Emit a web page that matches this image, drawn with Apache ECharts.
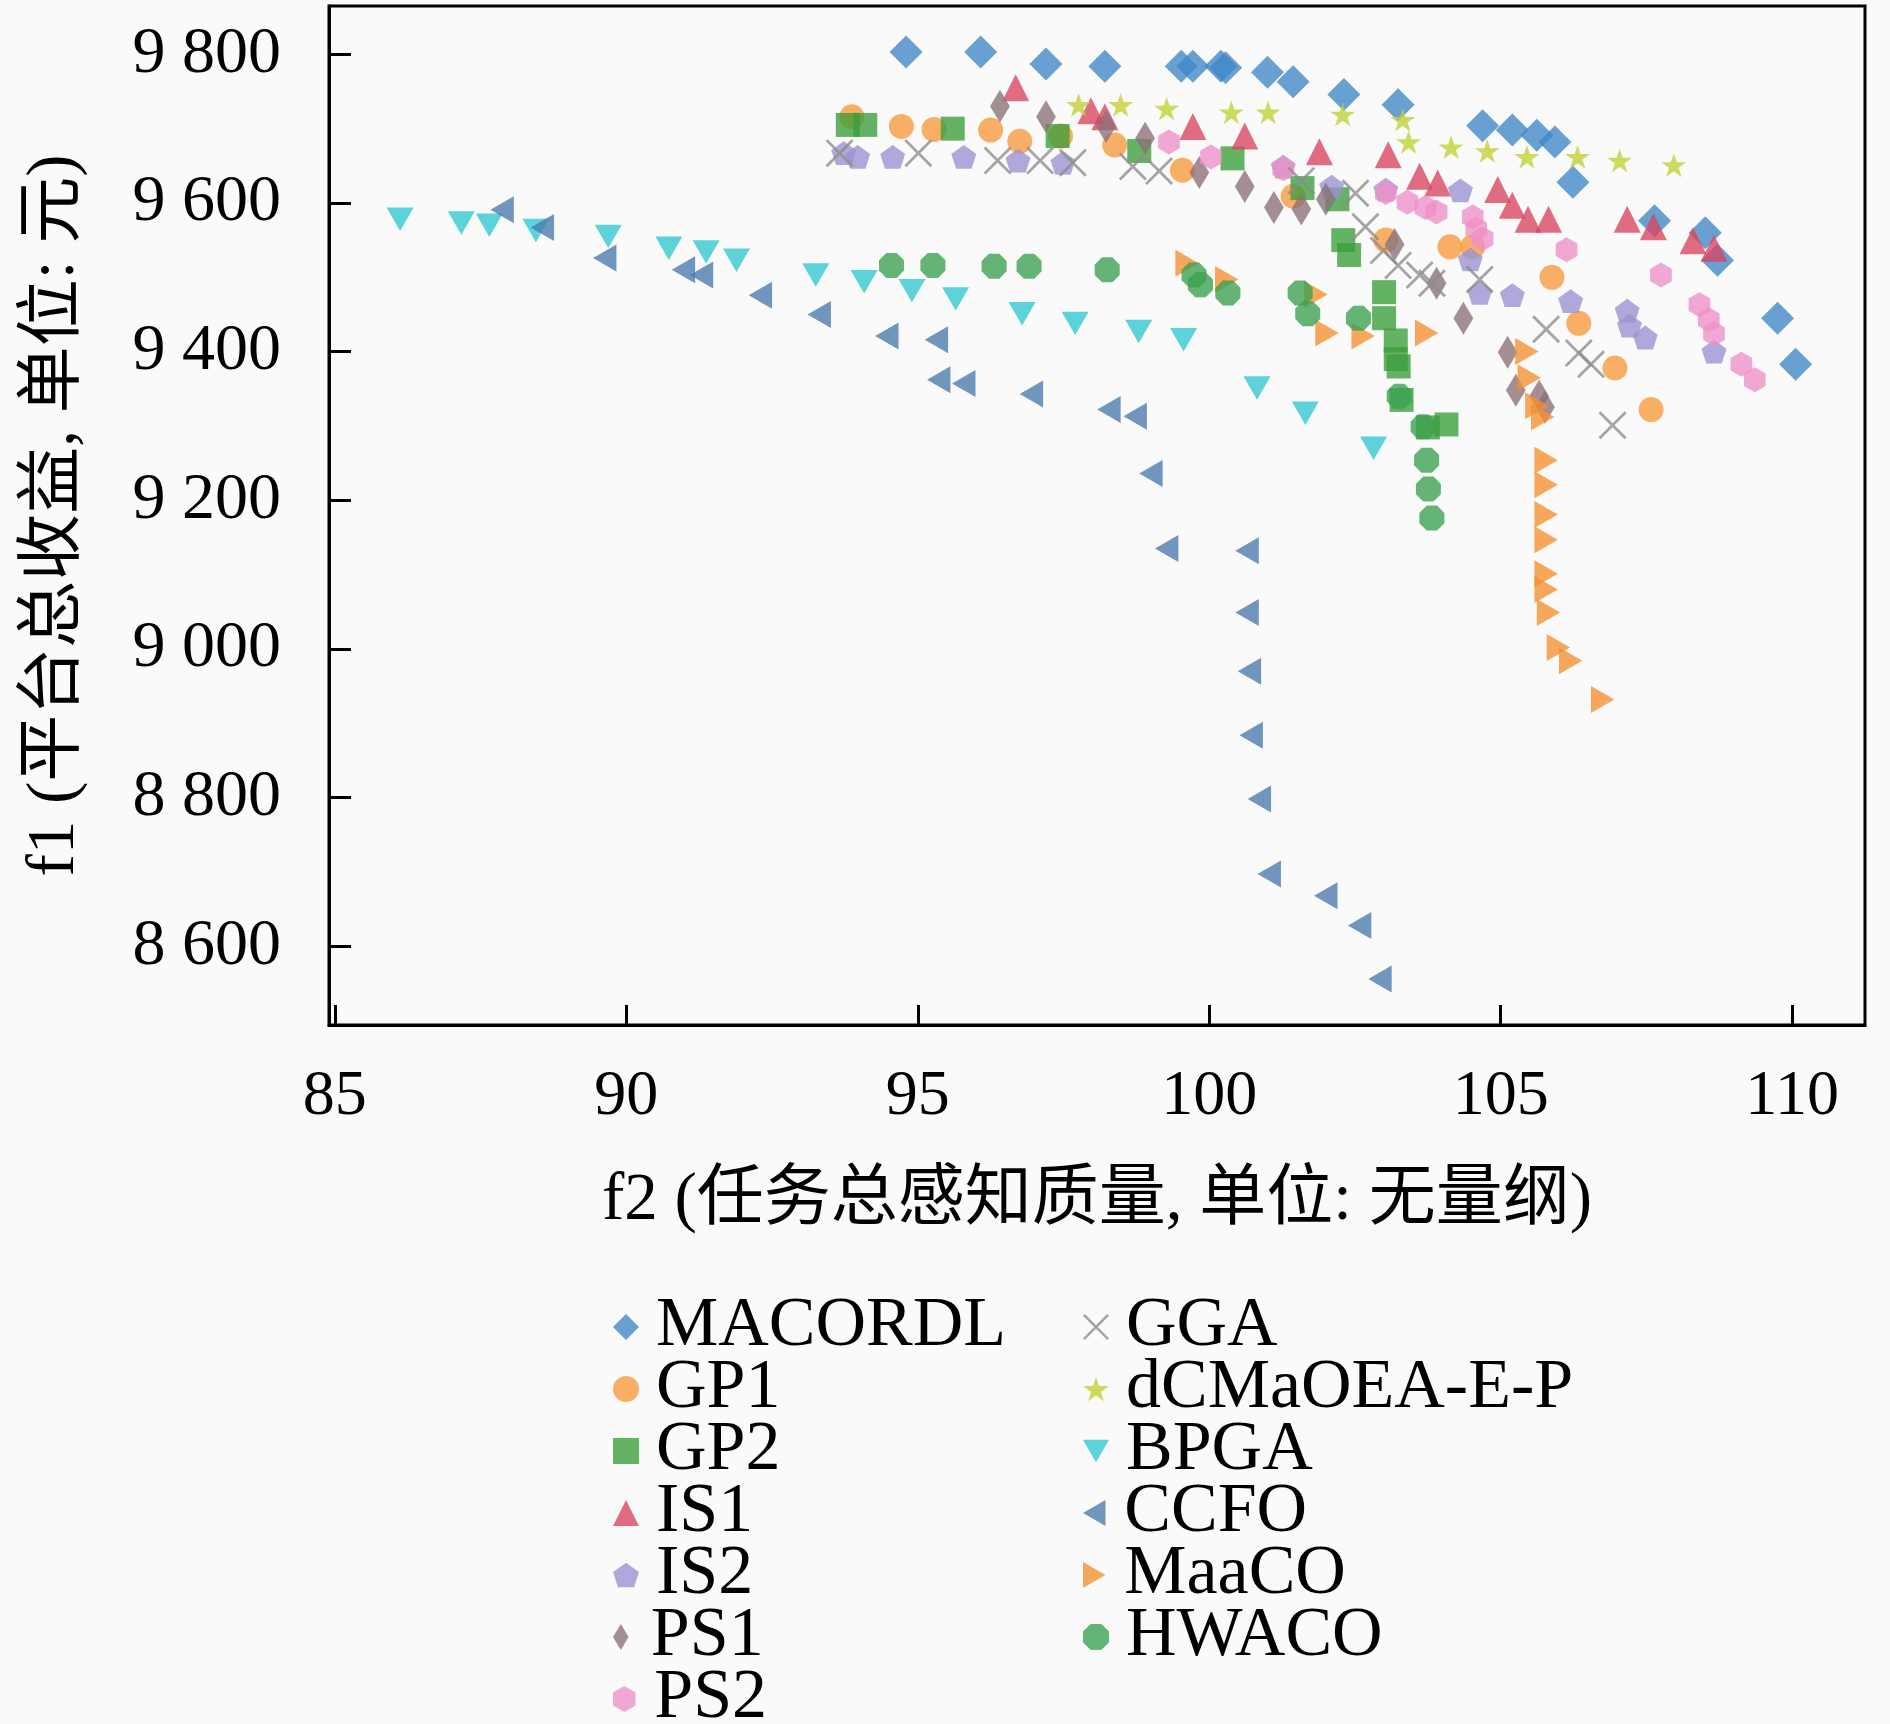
<!DOCTYPE html>
<html>
<head>
<meta charset="utf-8">
<script src="https://cdn.jsdelivr.net/npm/echarts@6/dist/echarts.min.js"></script>
<style>
  html, body { margin: 0; padding: 0; background: #fafafa; }
  #chart { width: 1890px; height: 1724px; }
</style>
</head>
<body>
<div id="chart"></div>
<script>
// [f2, f1] pairs
const macordl = [[94.80,9803],[96.08,9803],[97.20,9787],[98.21,9784],[99.52,9784],[99.72,9784],[100.20,9784],[100.28,9782],[101.00,9776],[101.44,9763],[102.31,9746],[103.24,9732],[104.69,9704],[105.20,9698],[105.62,9691],[105.93,9682],[106.24,9628],[107.64,9576],[108.51,9560],[108.72,9523],[109.75,9445],[110.06,9383]];
const gp1 = [[93.87,9716],[94.72,9703],[95.28,9699],[96.25,9698],[96.75,9683],[97.45,9690],[98.38,9678],[99.54,9644],[101.44,9609],[103.03,9550],[104.13,9541],[104.52,9541],[105.88,9500],[106.34,9438],[106.96,9378],[107.58,9322]];
const gp2 = [[93.8,9705],[94.1,9705],[95.6,9700],[97.4,9690],[98.8,9670],[100.4,9660],[101.6,9620],[102.2,9605],[102.3,9550],[102.4,9530],[103.0,9480],[103.0,9445],[103.2,9415],[103.2,9390],[103.25,9380],[103.3,9335],[103.75,9298],[104.07,9302]];
const is1 = [[96.68,9755],[97.97,9724],[98.21,9716],[99.72,9703],[100.61,9690],[101.89,9669],[103.07,9665],[103.61,9636],[103.92,9627],[104.95,9618],[105.20,9597],[105.47,9578],[105.82,9578],[107.17,9578],[107.62,9568],[108.30,9549],[108.66,9539]];
const is2 = [[93.73,9667],[93.97,9662],[94.57,9662],[95.79,9662],[96.72,9657],[97.49,9654],[101.27,9649],[102.10,9622],[103.03,9618],[104.31,9617],[104.48,9524],[104.64,9479],[105.20,9476],[106.20,9468],[107.17,9455],[107.21,9435],[107.48,9419],[108.66,9400]];
const ps1 = [[96.41,9730],[97.20,9716],[98.23,9703],[98.90,9687],[99.83,9641],[100.61,9622],[101.11,9594],[101.58,9592],[102.00,9605],[103.18,9544],[103.90,9492],[104.36,9445],[105.12,9399],[105.26,9348],[105.66,9340],[105.76,9325]];
const ps2 = [[99.31,9682],[100.03,9662],[101.27,9646],[103.03,9614],[103.40,9601],[103.71,9594],[103.90,9588],[104.52,9581],[104.58,9565],[104.69,9552],[106.13,9537],[107.75,9503],[108.41,9463],[108.57,9443],[108.66,9424],[109.13,9383],[109.36,9362]];
const gga = [[93.66,9667],[95.01,9667],[96.37,9657],[97.10,9657],[97.66,9654],[98.69,9649],[99.14,9643],[101.58,9630],[102.51,9613],[102.68,9568],[102.99,9536],[103.24,9516],[103.61,9503],[103.82,9492],[104.64,9497],[105.78,9430],[106.34,9398],[106.55,9383],[106.92,9301]];
const dcmaoea = [[97.76,9732],[98.48,9732],[99.27,9727],[100.38,9722],[101.01,9722],[102.29,9719],[103.32,9712],[103.42,9682],[104.15,9675],[104.77,9670],[105.45,9662],[106.32,9662],[107.04,9657],[107.97,9651]];
const bpga = [[86.12,9578],[87.17,9573],[87.65,9570],[88.45,9563],[89.69,9555],[90.73,9539],[91.37,9534],[91.89,9523],[93.25,9503],[94.08,9494],[94.90,9482],[95.65,9471],[96.79,9451],[97.70,9438],[98.79,9427],[99.56,9416],[100.82,9351],[101.65,9317],[102.82,9270]];
const ccfo = [[87.87,9591],[88.56,9567],[89.63,9526],[90.98,9510],[91.29,9503],[92.30,9476],[93.31,9450],[94.47,9421],[95.32,9416],[95.36,9362],[95.79,9357],[96.95,9343],[98.28,9322],[98.73,9313],[99.00,9236],[99.27,9135],[100.65,9132],[100.65,9049],[100.69,8970],[100.72,8884],[100.86,8798],[101.03,8697],[102.00,8668],[102.58,8628],[102.93,8556]];
const maaco = [[99.62,9519],[100.30,9497],[101.83,9477],[102.02,9425],[102.64,9421],[103.73,9425],[105.45,9400],[105.49,9365],[105.62,9327],[105.72,9312],[105.78,9254],[105.78,9221],[105.78,9181],[105.78,9147],[105.78,9101],[105.78,9080],[105.82,9049],[105.99,9002],[106.20,8984],[106.75,8932]];
const hwaco = [[94.55,9516],[95.26,9516],[96.31,9515],[96.91,9515],[98.25,9510],[99.74,9503],[99.85,9490],[100.32,9479],[101.56,9479],[101.69,9451],[102.56,9445],[103.26,9340],[103.67,9299],[103.73,9254],[103.76,9215],[103.82,9176]];

const xTicks = [85, 90, 95, 100, 105, 110];
const yTicks = [8600, 8800, 9000, 9200, 9400, 9600, 9800];

const SYM = {
    triDown: 'path://M0,0 L2,0 L1,1.732 Z',
    triLeft: 'path://M0,1 L1.732,0 L1.732,2 Z',
    triRight: 'path://M0,0 L1.732,1 L0,2 Z',
    thinDiamond: 'path://M3,0 L6,5 L3,10 L0,5 Z',
    pentagon: 'path://M0,-1 L0.951,-0.309 L0.588,0.809 L-0.588,0.809 L-0.951,-0.309 Z',
    hexagon: 'path://M0,-1 L0.866,-0.5 L0.866,0.5 L0,1 L-0.866,0.5 L-0.866,-0.5 Z',
    octagon: 'path://M-0.414,-1 L0.414,-1 L1,-0.414 L1,0.414 L0.414,1 L-0.414,1 L-1,0.414 L-1,-0.414 Z',
    star: 'path://M0,-1 L0.2245,-0.309 L0.951,-0.309 L0.363,0.118 L0.588,0.809 L0,0.382 L-0.588,0.809 L-0.363,0.118 L-0.951,-0.309 L-0.2245,-0.309 Z',
    cross: 'path://M0,0.07 L0.07,0 L0.5,0.43 L0.93,0 L1,0.07 L0.57,0.5 L1,0.93 L0.93,1 L0.5,0.57 L0.07,1 L0,0.93 L0.43,0.5 Z'
};

const SERIES = [
    { name: 'MACORDL', data: macordl, symbol: 'diamond', size: 33, color: '#3f86c6' },
    { name: 'GP1', data: gp1, symbol: 'circle', size: 25, color: '#f7993a' },
    { name: 'GP2', data: gp2, symbol: 'rect', size: 24, color: '#3a9e3a' },
    { name: 'IS1', data: is1, symbol: 'triangle', size: 27, color: '#d9445f' },
    { name: 'IS2', data: is2, symbol: SYM.pentagon, size: 25, color: '#9a92d2' },
    { name: 'PS1', data: ps1, symbol: SYM.thinDiamond, size: 33, color: '#8b6f76' },
    { name: 'PS2', data: ps2, symbol: SYM.hexagon, size: 25, color: '#ee8fc8' },
    { name: 'GGA', data: gga, symbol: SYM.cross, size: 28, color: '#8c8c8c' },
    { name: 'dCMaOEA-E-P', data: dcmaoea, symbol: SYM.star, size: 25, color: '#c2cf35' },
    { name: 'BPGA', data: bpga, symbol: SYM.triDown, size: 27, color: '#2fc6cf' },
    { name: 'CCFO', data: ccfo, symbol: SYM.triLeft, size: 27, color: '#4a7aad' },
    { name: 'MaaCO', data: maaco, symbol: SYM.triRight, size: 27, color: '#f59030' },
    { name: 'HWACO', data: hwaco, symbol: SYM.octagon, size: 25, color: '#3aa050' }
];

const FONT = '"Liberation Serif", "Noto Sans CJK SC", serif';

// one legend per entry so the two columns keep an exact row pitch
const ROW_TOP = 1287, ROW_PITCH = 62;
const legends = SERIES.map((s, i) => {
    const col = i < 7 ? 0 : 1;
    const row = col === 0 ? i : i - 7;
    return {
        left: col === 0 ? 608 : 1078,
        top: ROW_TOP + row * ROW_PITCH,
        itemWidth: 26,
        itemHeight: 26,
        data: [s.name],
        textStyle: { fontFamily: FONT, fontSize: 70, color: '#000', padding: [0, 0, 0, 12] }
    };
});

const chart = echarts.init(document.getElementById('chart'));
chart.setOption({
    backgroundColor: '#fafafa',
    animation: false,
    textStyle: { fontFamily: FONT },
    grid: {
        left: 329, top: 6, width: 1536, height: 1019,
        show: true, borderColor: '#000', borderWidth: 3, backgroundColor: 'transparent'
    },
    legend: legends,
    xAxis: {
        type: 'value',
        min: 84.9,
        max: 111.25,
        name: 'f2 (任务总感知质量, 单位: 无量纲)',
        nameLocation: 'middle',
        nameGap: 143,
        nameTextStyle: { fontFamily: FONT, fontSize: 67, color: '#000' },
        axisLine: { show: true, lineStyle: { color: '#000', width: 3 } },
        axisTick: { show: true, inside: true, length: 20, customValues: xTicks, lineStyle: { color: '#000', width: 3 } },
        axisLabel: { customValues: xTicks, margin: 40, fontFamily: FONT, fontSize: 64, color: '#000' },
        splitLine: { show: false }
    },
    yAxis: {
        type: 'value',
        min: 8494,
        max: 9865,
        name: 'f1 (平台总收益, 单位: 元)',
        nameLocation: 'middle',
        nameGap: 240,
        nameTextStyle: { fontFamily: FONT, fontSize: 67, color: '#000' },
        axisLine: { show: true, lineStyle: { color: '#000', width: 3 } },
        axisTick: { show: true, inside: true, length: 22, customValues: yTicks, lineStyle: { color: '#000', width: 3 } },
        axisLabel: {
            customValues: yTicks, margin: 48, fontFamily: FONT, fontSize: 66, color: '#000',
            formatter: v => String(v).replace(/(\d)(\d{3})$/, '$1 $2')
        },
        splitLine: { show: false }
    },
    series: SERIES.map(s => ({
        name: s.name,
        type: 'scatter',
        data: s.data,
        symbol: s.symbol,
        symbolSize: s.size,
        symbolKeepAspect: true,
        itemStyle: { color: s.color, opacity: 0.78 }
    }))
});
</script>
</body>
</html>
